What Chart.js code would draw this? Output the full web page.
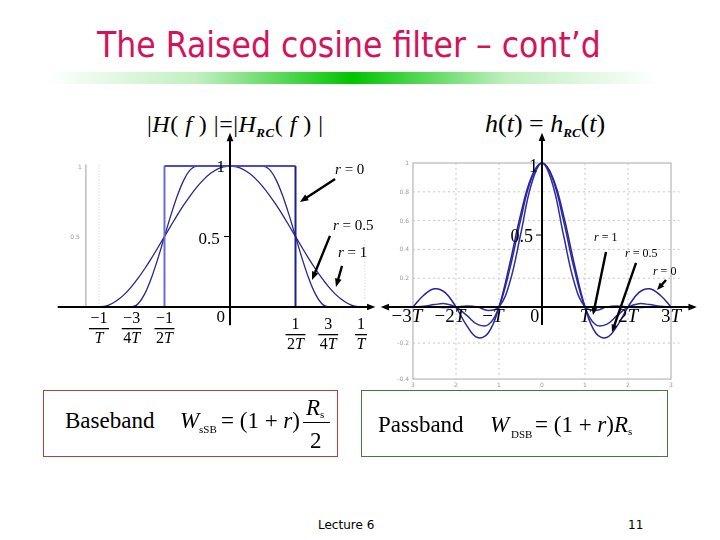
<!DOCTYPE html>
<html>
<head>
<meta charset="utf-8">
<script src="https://cdn.jsdelivr.net/npm/chart.js@4.4.1/dist/chart.umd.min.js"></script>
<style>
  body { margin: 0; width: 720px; height: 540px; background: #fff; position: relative; overflow: hidden; }
  .abs { position: absolute; white-space: nowrap; line-height: 1; }
  #title { left: 97px; top: 24px; font: 36px "DejaVu Sans", sans-serif; color: #d3145b; transform-origin: 0 0; }
  #bar { left: 45px; top: 72px; width: 615px; height: 12px;
    background: linear-gradient(to right, rgba(0,192,0,0) 0%, rgba(0,192,0,0.25) 25%, #00c400 50%, rgba(0,192,0,0.25) 75%, rgba(0,192,0,0) 100%); }
  .serif { font-family: "Liberation Serif", "Times New Roman", serif; color: #000; }
  .serif i { font-style: italic; }
  .sub { font-size: 11px; }
  .lo { font-size: 13px; font-weight: bold; vertical-align: -0.35em; }
  .box { position: absolute; top: 390px; height: 65px; border: 1px solid; }
  #boxBase { left: 43px; width: 293px; border-color: #b2403f; }
  #boxPass { left: 361px; width: 305px; border-color: #3f7d3f; }
  .footer { font: 12px "DejaVu Sans", sans-serif; color: #000; }
  canvas { position: absolute; }
</style>
</head>
<body>
<div id="title" class="abs">The Raised cosine filter – cont’d</div>
<div id="bar" class="abs"></div>

<div class="abs serif" style="left:147px;top:112px;font-size:24px;letter-spacing:0.5px">|<i>H</i>( <i>f</i> ) |=|<i>H</i><i class="lo">RC</i>( <i>f</i> ) |</div>
<div class="abs serif" style="left:485px;top:111px;font-size:26px"><i>h</i>(<i>t</i>) = <i>h</i><i class="lo">RC</i>(<i>t</i>)</div>

<canvas id="freqChart" width="330" height="260" style="left:50px;top:100px"></canvas>
<canvas id="timeChart" width="324" height="290" style="left:376px;top:100px"></canvas>

<div id="boxBase" class="box"></div>
<div id="boxPass" class="box"></div>
<div class="abs serif" style="left:65px;top:409px;font-size:23px">Baseband</div>
<div class="abs serif" style="left:180px;top:409px;font-size:23px"><i>W</i></div>
<div class="abs serif sub" style="left:199px;top:424px">sSB</div>
<div class="abs serif" style="left:221px;top:409px;font-size:23px">= (1 + <i>r</i>)</div>
<div class="abs serif" style="left:306px;top:396px;font-size:23px"><i>R</i><span class="sub" style="vertical-align:-0.3em">s</span></div>
<div class="abs" style="left:303px;top:422px;width:27px;height:1px;background:#000"></div>
<div class="abs serif" style="left:310px;top:429px;font-size:23px">2</div>

<div class="abs serif" style="left:378px;top:413px;font-size:23px">Passband</div>
<div class="abs serif" style="left:490px;top:413px;font-size:23px"><i>W</i></div>
<div class="abs serif sub" style="left:511px;top:429px">DSB</div>
<div class="abs serif" style="left:535px;top:413px;font-size:23px">= (1 + <i>r</i>)<i>R</i><span class="sub" style="vertical-align:-0.3em">s</span></div>

<div class="abs footer" style="left:318px;top:518px">Lecture 6</div>
<div class="abs footer" style="left:628px;top:518px">11</div>

<script>
// frequency axis in units of 1/T
const freqAxis = [-1, -0.95, -0.9, -0.85, -0.8, -0.75, -0.7, -0.65, -0.6, -0.55, -0.5, -0.45, -0.4, -0.35, -0.3, -0.25, -0.2, -0.15, -0.1, -0.05, 0,
  0.05, 0.1, 0.15, 0.2, 0.25, 0.3, 0.35, 0.4, 0.45, 0.5, 0.55, 0.6, 0.65, 0.7, 0.75, 0.8, 0.85, 0.9, 0.95, 1];
const gainR1 = [0, 0.006, 0.025, 0.055, 0.095, 0.146, 0.206, 0.273, 0.345, 0.422, 0.5, 0.578, 0.655, 0.727, 0.794, 0.854, 0.905, 0.946, 0.976, 0.994, 1,
  0.994, 0.976, 0.946, 0.905, 0.854, 0.794, 0.727, 0.655, 0.578, 0.5, 0.422, 0.345, 0.273, 0.206, 0.146, 0.095, 0.055, 0.025, 0.006, 0];
const gainR05 = [0, 0, 0, 0, 0, 0, 0.025, 0.095, 0.206, 0.345, 0.5, 0.655, 0.794, 0.905, 0.976, 1, 1, 1, 1, 1, 1,
  1, 1, 1, 1, 1, 0.976, 0.905, 0.794, 0.655, 0.5, 0.345, 0.206, 0.095, 0.025, 0, 0, 0, 0, 0, 0];
const rectFreq = [-0.5, -0.5, 0.5, 0.5];
const rectGain = [0, 1, 1, 0];

// time axis in units of T
const timeAxis = [-3, -2.75, -2.5, -2.25, -2, -1.75, -1.5, -1.25, -1, -0.75, -0.5, -0.25, 0,
  0.25, 0.5, 0.75, 1, 1.25, 1.5, 1.75, 2, 2.25, 2.5, 2.75, 3];
const pulseR0 = [0, 0.082, 0.127, 0.1, 0, -0.129, -0.212, -0.18, 0, 0.3, 0.637, 0.9, 1,
  0.9, 0.637, 0.3, 0, -0.18, -0.212, -0.129, 0, 0.1, 0.127, 0.082, 0];
const pulseR05 = [0, 0.005, 0.017, 0.023, 0, -0.058, -0.12, -0.123, 0, 0.263, 0.6, 0.887, 1,
  0.887, 0.6, 0.263, 0, -0.123, -0.12, -0.058, 0, 0.023, 0.017, 0.005, 0];
const pulseR1 = [0, 0.002, 0, -0.004, 0, 0.008, 0, -0.024, 0, 0.17, 0.5, 0.849, 1,
  0.849, 0.5, 0.17, 0, -0.024, 0, 0.008, 0, -0.004, 0, 0.002, 0];

// tick labels
const freqTickValues = [-1, -0.75, -0.5, 0.5, 0.75, 1];
const freqTickNum = ['−1', '−3', '−1', '1', '3', '1'];
const freqTickDen = ['T', '4T', '2T', '2T', '4T', 'T'];
const timeTickValues = [-3, -2, -1, 1, 2, 3];
const timeTickLabels = ['−3T', '−2T', '−T', 'T', '2T', '3T'];
const gridYValues = [0.8, 0.6, 0.4, 0.2, -0.25];
const gridYLabels = ['0.8', '0.6', '0.4', '0.2', '-0.2'];

const SERIF = '"Liberation Serif", "Times New Roman", serif';

function pts(xs, ys) {
  return xs.map((v, i) => ({ x: v, y: ys[i] }));
}

function line(ctx, x1, y1, x2, y2) {
  ctx.beginPath();
  ctx.moveTo(x1, y1);
  ctx.lineTo(x2, y2);
  ctx.stroke();
}

function arrow(ctx, x1, y1, x2, y2, head) {
  const a = Math.atan2(y2 - y1, x2 - x1);
  line(ctx, x1, y1, x2 - Math.cos(a) * head * 0.6, y2 - Math.sin(a) * head * 0.6);
  ctx.beginPath();
  ctx.moveTo(x2, y2);
  ctx.lineTo(x2 - head * Math.cos(a - 0.38), y2 - head * Math.sin(a - 0.38));
  ctx.lineTo(x2 - head * Math.cos(a + 0.38), y2 - head * Math.sin(a + 0.38));
  ctx.closePath();
  ctx.fill();
}

// letters italic, digits and signs upright
function mathText(ctx, str, x, y, size, align) {
  const chars = [...str];
  const fonts = chars.map(c => (/[A-Za-z]/.test(c) ? 'italic ' : '') + size + 'px ' + SERIF);
  const widths = chars.map((c, i) => { ctx.font = fonts[i]; return ctx.measureText(c).width; });
  const total = widths.reduce((a, b) => a + b, 0);
  let cx = align === 'center' ? x - total / 2 : align === 'right' ? x - total : x;
  ctx.textAlign = 'left';
  chars.forEach((c, i) => {
    ctx.font = fonts[i];
    ctx.fillText(c, cx, y);
    cx += widths[i];
  });
  return total;
}

function mathWidth(ctx, str, size) {
  let w = 0;
  for (const c of str) {
    ctx.font = (/[A-Za-z]/.test(c) ? 'italic ' : '') + size + 'px ' + SERIF;
    w += ctx.measureText(c).width;
  }
  return w;
}

const freqDecor = {
  id: 'freqDecor',
  beforeDatasetsDraw(chart) {
    const { ctx, scales: { x, y } } = chart;
    const px = v => x.getPixelForValue(v), py = v => y.getPixelForValue(v);
    ctx.save();
    ctx.strokeStyle = '#9c9c9c';
    ctx.lineWidth = 1;
    line(ctx, px(-1.1), py(1.01), px(-1.1), py(0));
    ctx.setLineDash([1, 2]);
    ctx.strokeStyle = '#c4c4c4';
    line(ctx, px(-1), py(1.01), px(-1), py(0.02));
    line(ctx, px(1.03), py(0.47), px(1.03), py(0.05));
    ctx.setLineDash([]);
    ctx.fillStyle = '#9a9a9a';
    ctx.font = '6px "DejaVu Sans"';
    ctx.textAlign = 'right';
    ctx.fillText('1', px(-1.1) - 4, py(1) + 3);
    ctx.fillText('0.5', px(-1.1) - 6, py(0.5) + 3);
    ctx.restore();
  },
  afterDatasetsDraw(chart) {
    const { ctx, scales: { x, y } } = chart;
    const px = v => x.getPixelForValue(v), py = v => y.getPixelForValue(v);
    ctx.save();
    ctx.strokeStyle = '#000';
    ctx.fillStyle = '#000';
    ctx.lineWidth = 2;
    arrow(ctx, px(-1.315), py(0), px(1.11), py(0), 9);
    arrow(ctx, px(0), py(-0.13), px(0), py(1.235), 9);
    ctx.lineWidth = 1;
    line(ctx, px(0) - 6, py(0.5), px(0), py(0.5));

    mathText(ctx, '1', px(-0.07), py(0.955), 17, 'center');
    mathText(ctx, '0.5', px(-0.16), py(0.45), 17, 'center');
    mathText(ctx, '0', px(-0.07), py(-0.105), 17, 'center');

    freqTickValues.forEach((v, i) => {
      const cx = px(v);
      const yNum = v < 0 ? 323 - 100 : 329 - 100;
      mathText(ctx, freqTickNum[i], cx, yNum, 16, 'center');
      const w = Math.max(mathWidth(ctx, freqTickNum[i], 16), mathWidth(ctx, freqTickDen[i], 16)) + 3;
      ctx.fillRect(cx - w / 2, yNum + 5, w, 1.3);
      mathText(ctx, freqTickDen[i], cx, yNum + 20, 16, 'center');
    });

    const notes = [
      { text: 'r = 0', at: [0.802, 0.943], from: [0.802, 0.908], to: [0.534, 0.745] },
      { text: 'r = 0.5', at: [0.786, 0.546], from: [0.763, 0.504], to: [0.626, 0.191] },
      { text: 'r = 1', at: [0.824, 0.355], from: [0.855, 0.291], to: [0.809, 0.142] }
    ];
    ctx.lineWidth = 2.4;
    notes.forEach(n => {
      mathText(ctx, n.text, px(n.at[0]), py(n.at[1]), 15, 'left');
      arrow(ctx, px(n.from[0]), py(n.from[1]), px(n.to[0]), py(n.to[1]), 9);
    });
    ctx.restore();
  }
};

const timeDecor = {
  id: 'timeDecor',
  beforeDatasetsDraw(chart) {
    const { ctx, scales: { x, y } } = chart;
    const px = v => x.getPixelForValue(v), py = v => y.getPixelForValue(v);
    ctx.save();
    ctx.lineWidth = 1;
    ctx.strokeStyle = '#a8a8a8';
    ctx.strokeRect(px(-3), py(1), px(3) - px(-3), py(-0.5) - py(1));
    ctx.setLineDash([2, 3]);
    ctx.strokeStyle = '#c6c6c6';
    gridYValues.forEach(v => line(ctx, px(-3), py(v), px(3.2), py(v)));
    [-2, -1, 1, 2].forEach(v => line(ctx, px(v), py(1), px(v), py(-0.5)));
    ctx.setLineDash([]);
    ctx.fillStyle = '#9a9a9a';
    ctx.font = '6px "DejaVu Sans"';
    ctx.textAlign = 'right';
    ctx.fillText('1', px(-3) - 4, py(1) + 2);
    gridYValues.forEach((v, i) => ctx.fillText(gridYLabels[i], px(-3) - 4, py(v) + 2));
    ctx.fillText('-0.4', px(-3) - 4, py(-0.5) + 2);
    ctx.textAlign = 'center';
    [-3, -2, -1, 0, 1, 2, 3].forEach(v => ctx.fillText(String(Math.abs(v)), px(v), py(-0.5) + 8));
    ctx.restore();
  },
  afterDatasetsDraw(chart) {
    const { ctx, scales: { x, y } } = chart;
    const px = v => x.getPixelForValue(v), py = v => y.getPixelForValue(v);
    ctx.save();
    ctx.strokeStyle = '#000';
    ctx.fillStyle = '#000';
    ctx.lineWidth = 2;
    arrow(ctx, px(0), py(0), px(-3.75), py(0), 9);
    arrow(ctx, px(0), py(0), px(3.6), py(0), 9);
    arrow(ctx, px(0), py(-0.125), px(0), py(1.21), 9);
    ctx.lineWidth = 1;
    line(ctx, px(0) - 6, py(0.5), px(0), py(0.5));

    mathText(ctx, '1', px(-0.2), py(0.935), 18, 'center');
    mathText(ctx, '0.5', px(-0.47), py(0.45), 18, 'center');
    mathText(ctx, '0', px(-0.17), py(-0.105), 18, 'center');

    timeTickValues.forEach((v, i) => {
      const shift = v < 0 ? -6 : 0;
      mathText(ctx, timeTickLabels[i], px(v) + shift, py(-0.105), 19, 'center');
    });

    const notes = [
      { text: 'r = 1', at: [1.209, 0.458], from: [1.488, 0.382], to: [1.186, -0.056] },
      { text: 'r = 0.5', at: [1.93, 0.347], from: [2.186, 0.306], to: [1.628, -0.174] },
      { text: 'r = 0', at: [2.58, 0.222], from: [2.884, 0.1875], to: [2.674, 0.118] }
    ];
    ctx.lineWidth = 2.4;
    notes.forEach(n => {
      mathText(ctx, n.text, px(n.at[0]), py(n.at[1]), 12, 'left');
      arrow(ctx, px(n.from[0]), py(n.from[1]), px(n.to[0]), py(n.to[1]), 8);
    });
    ctx.restore();
  }
};

const rectColors = ['#6b6bd8', '#4b4bc6', '#1f1f8f'];

const baseOptions = (xmin, xmax, ymin, ymax) => ({
  responsive: false,
  animation: false,
  events: [],
  layout: { padding: 0 },
  plugins: { legend: { display: false }, tooltip: { enabled: false } },
  elements: { point: { radius: 0 } },
  scales: {
    x: { type: 'linear', display: false, min: xmin, max: xmax },
    y: { display: false, min: ymin, max: ymax }
  }
});

new Chart(document.getElementById('freqChart'), {
  type: 'line',
  data: {
    datasets: [
      { label: 'r = 0', data: pts(rectFreq, rectGain), borderWidth: 2, tension: 0,
        borderColor: '#4b4bc6', segment: { borderColor: c => rectColors[c.p0DataIndex] } },
      { label: 'r = 0.5', data: pts(freqAxis, gainR05), borderColor: '#26268f', borderWidth: 1.3, cubicInterpolationMode: 'monotone' },
      { label: 'r = 1', data: pts(freqAxis, gainR1), borderColor: '#26268f', borderWidth: 1.3, cubicInterpolationMode: 'monotone' }
    ]
  },
  options: baseOptions(-1.374, 1.145, -0.376, 1.468),
  plugins: [freqDecor]
});

new Chart(document.getElementById('timeChart'), {
  type: 'line',
  data: {
    datasets: [
      { label: 'r = 0', data: pts(timeAxis, pulseR0), borderColor: '#262699', borderWidth: 1.5, tension: 0.4 },
      { label: 'r = 0.5', data: pts(timeAxis, pulseR05), borderColor: '#2d2da6', borderWidth: 1.5, tension: 0.4 },
      { label: 'r = 1', data: pts(timeAxis, pulseR1), borderColor: '#2d2da6', borderWidth: 1.5, tension: 0.4 }
    ]
  },
  options: baseOptions(-3.86, 3.674, -0.576, 1.4375),
  plugins: [timeDecor]
});

// squeeze the title to the slide's narrower face
const title = document.getElementById('title');
title.style.transform = 'scaleX(' + (504 / title.getBoundingClientRect().width).toFixed(3) + ')';
</script>
</body>
</html>
